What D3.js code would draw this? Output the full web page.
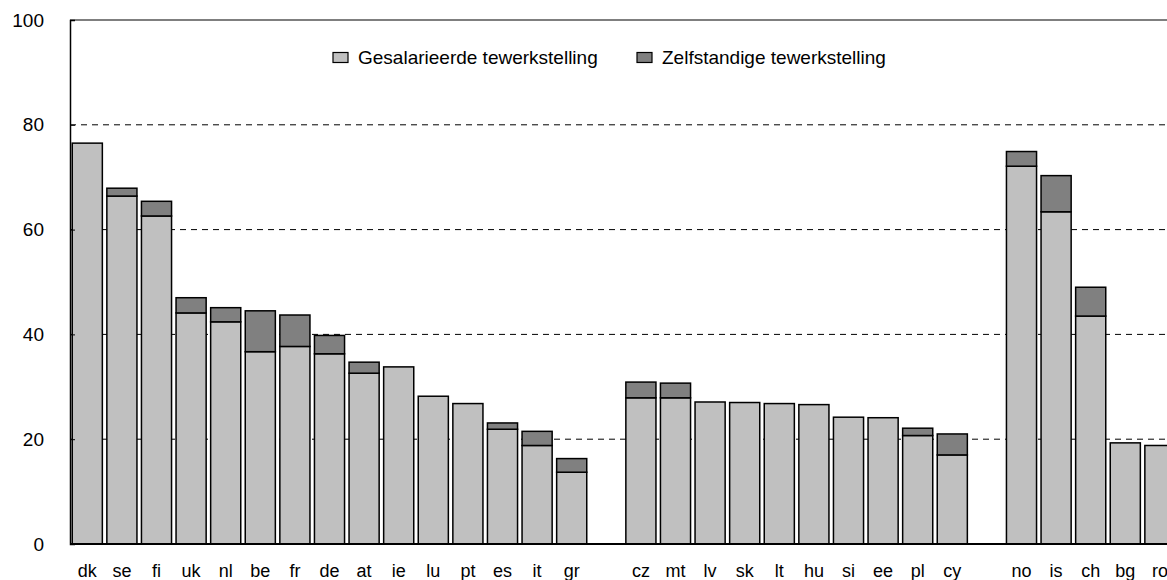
<!DOCTYPE html>
<html>
<head>
<meta charset="utf-8">
<script src="https://cdn.jsdelivr.net/npm/d3@7"></script>
<style>
  body { margin: 0; background: #fff; }
  text { font-family: "Liberation Sans", Arial, sans-serif; fill: #000; }
</style>
</head>
<body>
<div id="chart"></div>
<script>
// categories, blank slots are the empty gaps between the groups
var categories = ["dk","se","fi","uk","nl","be","fr","de","at","ie","lu","pt","es","it","gr","",
  "cz","mt","lv","sk","lt","hu","si","ee","pl","cy"," ",
  "no","is","ch","bg","ro"];
var salaried = [76.5,66.4,62.6,44.1,42.4,36.7,37.7,36.3,32.6,33.8,28.2,26.8,21.9,18.8,13.7,0,
  27.9,27.9,27.1,27.0,26.8,26.6,24.2,24.1,20.7,17.0,0,
  72.1,63.4,43.5,19.3,18.8];
var selfEmployed = [0,1.5,2.8,2.9,2.7,7.8,6.0,3.5,2.1,0,0,0,1.2,2.7,2.6,0,
  3.0,2.8,0,0,0,0,0,0,1.4,4.0,0,
  2.8,6.9,5.5,0,0];
var yTicks = [0,20,40,60,80,100];
var seriesNames = ["Gesalarieerde tewerkstelling","Zelfstandige tewerkstelling"];
var seriesColors = ["#c0c0c0","#808080"];

var width = 1167, height = 580;
var margin = {left:70, top:20, bottom:36};

var svg = d3.select("#chart").append("svg")
  .attr("width", width)
  .attr("height", height);

var right = margin.left + categories.length * 34.6;

var x = d3.scaleBand()
  .domain(categories)
  .range([margin.left, right])
  .paddingInner(0.13)
  .paddingOuter(0.065);

var y = d3.scaleLinear()
  .domain([0, 100])
  .range([height - margin.bottom, margin.top]);

// dashed grid lines
svg.append("g")
  .selectAll("line")
  .data(yTicks.filter(d => d > 0 && d < 100))
  .enter().append("line")
  .attr("x1", margin.left).attr("x2", right)
  .attr("y1", d => y(d)).attr("y2", d => y(d))
  .attr("stroke", "#000")
  .attr("stroke-width", 1)
  .attr("stroke-dasharray", "6,5");

// top border
svg.append("line")
  .attr("x1", margin.left).attr("x2", right)
  .attr("y1", y(100)).attr("y2", y(100))
  .attr("stroke", "#000").attr("stroke-width", 1.2);

// stacked bars
var rows = categories.map((c, i) => ({cat: c, a: salaried[i], b: selfEmployed[i]}))
  .filter(d => d.cat.trim() !== "");

var bars = svg.append("g");
bars.selectAll("rect.sal")
  .data(rows)
  .enter().append("rect")
  .attr("class", "sal")
  .attr("x", d => x(d.cat))
  .attr("width", x.bandwidth())
  .attr("y", d => y(d.a))
  .attr("height", d => y(0) - y(d.a))
  .attr("fill", seriesColors[0])
  .attr("stroke", "#000")
  .attr("stroke-width", 1.5);

bars.selectAll("rect.self")
  .data(rows.filter(d => d.b > 0))
  .enter().append("rect")
  .attr("class", "self")
  .attr("x", d => x(d.cat))
  .attr("width", x.bandwidth())
  .attr("y", d => y(d.a + d.b))
  .attr("height", d => y(d.a) - y(d.a + d.b))
  .attr("fill", seriesColors[1])
  .attr("stroke", "#000")
  .attr("stroke-width", 1.5);

// y axis
var yAxis = d3.axisLeft(y).tickValues(yTicks).tickSize(-5).tickPadding(26);
var gy = svg.append("g")
  .attr("transform", "translate(" + margin.left + ",0)")
  .call(yAxis);
gy.select(".domain").attr("stroke", "#000").attr("stroke-width", 1.5);
gy.selectAll(".tick line").attr("stroke", "#000");
gy.selectAll(".tick text")
  .style("font-family", "Liberation Sans, Arial, sans-serif")
  .style("font-size", "19px");

// x axis baseline
svg.append("line")
  .attr("x1", margin.left).attr("x2", right)
  .attr("y1", y(0)).attr("y2", y(0))
  .attr("stroke", "#000").attr("stroke-width", 2);

// category labels
svg.append("g")
  .selectAll("text")
  .data(rows)
  .enter().append("text")
  .attr("x", d => x(d.cat) + x.bandwidth() / 2)
  .attr("y", 577)
  .attr("text-anchor", "middle")
  .style("font-size", "18px")
  .text(d => d.cat);

// legend
var legendX = [333, 637];
var lg = svg.append("g");
seriesNames.forEach((name, i) => {
  lg.append("rect")
    .attr("x", legendX[i]).attr("y", 52.5)
    .attr("width", 15).attr("height", 10)
    .attr("fill", seriesColors[i])
    .attr("stroke", "#000").attr("stroke-width", 1.2);
  lg.append("text")
    .attr("x", legendX[i] + 25).attr("y", 63.5)
    .style("font-size", "19px")
    .text(name);
});
</script>
</body>
</html>
